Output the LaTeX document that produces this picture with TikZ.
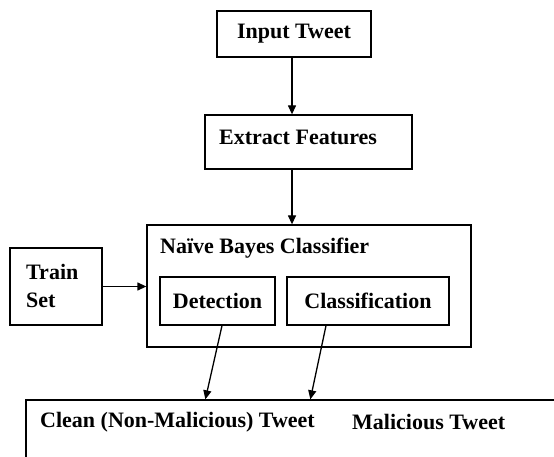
\documentclass[tikz,border=0pt]{standalone}
\usepackage{fontspec}
\setmainfont{Liberation Serif}
\usetikzlibrary{arrows.meta,calc}
\begin{document}
\begin{tikzpicture}[x=1pt,y=-1pt,
  box/.style={draw=black,line width=1.3pt,inner sep=0pt,
    font=\bfseries\fontsize{22}{26}\selectfont},
  txt/.style={inner sep=0pt,font=\bfseries\fontsize{22}{28}\selectfont},
  flow/.style={line width=1.3pt,-{Triangle[length=9pt,width=8pt]}}]
\clip (0,0) rectangle (554,457);
\fill[white] (0,0) rectangle (554,457);

% pipeline boxes
\node[box,minimum width=154,minimum height=46] (in) at (294,34) {Input Tweet};
\node[box,minimum width=207,minimum height=54] (ext) at (308.5,142) {};
\node[txt,anchor=west] (extt) at (219,137) {Extract Features};

% classifier container with its two stages
\node[box,minimum width=324,minimum height=122] (nb) at (309,286) {};
\node[txt,anchor=west] (nbt) at (160,248) {Naïve Bayes Classifier};
\node[box,minimum width=115,minimum height=48] (det) at (217.5,301) {Detection};
\node[box,minimum width=162,minimum height=48] (cls) at (368,301) {Classification};

% training data
\node[box,minimum width=92,minimum height=77] (train) at (56,286.5) {};
\node[txt,anchor=west,align=left] (traint) at (26,286) {Train\\Set};

% output box, running off the right and bottom edges
\node[box,minimum width=574,minimum height=80] (out) at (313,440) {};
\node[txt,anchor=west] (clean) at (40,422) {Clean (Non-Malicious) Tweet};
\node[txt,anchor=west] (mal) at (352,422) {Malicious Tweet};

% connectors
\draw[flow] ($(in.south)+(-2,0)$) -- ($(in.south |- ext.north)+(-2,0)$);
\draw[flow] ($(in.south |- ext.south)+(-2,0)$) -- ($(in.south |- nb.north)+(-2,0)$);
\draw[flow] (train.east) -- (train.east -| nb.west);
\draw[flow] ($(det.south)+(4.5,0)$) -- ($(out.north west)+(180,0)$);
\draw[flow] ($(cls.south)+(-42,0)$) -- ($(out.north west)+(285,0)$);
\end{tikzpicture}
\end{document}
